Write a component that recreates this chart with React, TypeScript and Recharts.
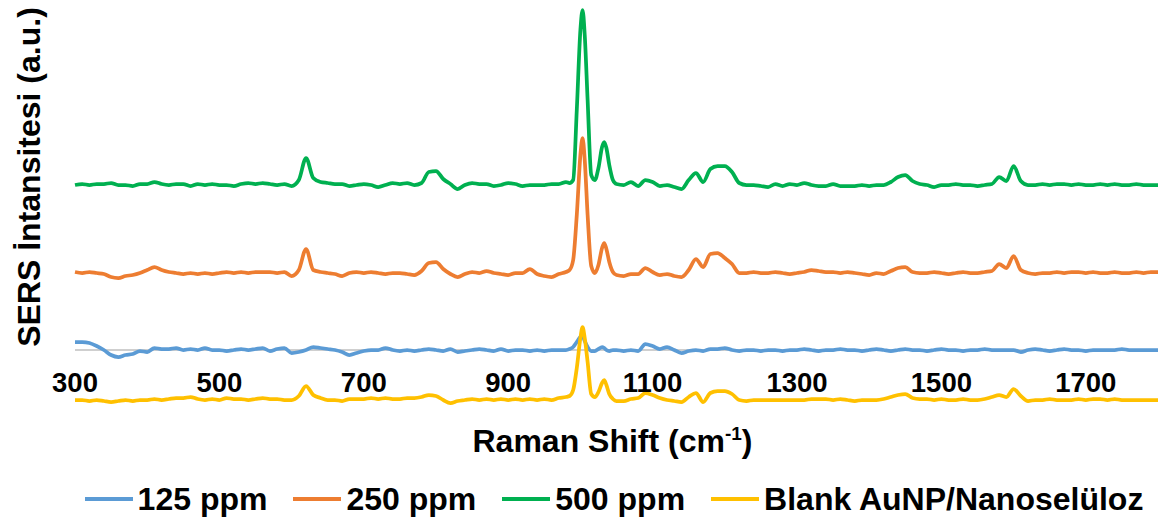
import { LineChart, Line, XAxis, YAxis, CartesianGrid } from 'recharts';

// Raman shift (cm-1) sample positions, finer around the 1003 / 1033 bands
const SHIFTS = [
  300, 310, 320, 330, 340, 350, 360, 370, 380, 390,
  400, 410, 420, 430, 440, 450, 460, 470, 480, 490,
  500, 510, 520, 530, 540, 550, 560, 570, 580, 590,
  600, 610, 620, 630, 640, 650, 660, 670, 680, 690,
  700, 710, 720, 730, 740, 750, 760, 770, 780, 790,
  800, 810, 820, 830, 840, 850, 860, 870, 880, 890,
  900, 910, 920, 930, 940, 950, 960, 970, 980,
  985, 990, 995, 1000, 1003, 1006, 1010, 1015, 1020, 1025, 1030, 1033, 1036, 1040, 1045, 1050,
  1060, 1070, 1080, 1090, 1100, 1110, 1120, 1130, 1140, 1150,
  1160, 1170, 1180, 1190, 1200, 1210, 1220, 1230, 1240, 1250,
  1260, 1270, 1280, 1290, 1300, 1310, 1320, 1330, 1340, 1350,
  1360, 1370, 1380, 1390, 1400, 1410, 1420, 1430, 1440, 1450,
  1460, 1470, 1480, 1490, 1500, 1510, 1520, 1530, 1540, 1550,
  1560, 1570, 1580, 1590, 1600, 1610, 1620, 1630, 1640, 1650,
  1660, 1670, 1680, 1690, 1700, 1710, 1720, 1730, 1740, 1750,
  1760, 1770, 1780, 1790, 1800,
];

const PPM_125 = [
  8, 8, 7, 4, 0, -5, -7, -5, -4, -1,
  -2, 2, 1, 1, 2, 0, 1, 0, 2, 0,
  0, -1, 0, 1, 0, 1, 2, -1, 1, 2,
  -3, -2, 0, 3, 2, 1, 0, -2, -5, -3,
  -1, 0, 0, 2, 0, -1, 0, -1, 0, 1,
  0, -1, 1, -2, -1, 0, 1, 0, -1, 1,
  -1, 0, 0, -1, 0, -1, 0, 0, 0,
  1, 3, 8, 13, 14, 9, 3, -1, -1, 1, 3, 2, 0, -1, 0, 0,
  -1, 0, -1, 6, 4, 1, 3, 0, -3, -1,
  0, -1, 1, 1, 2, 0, -1, 0, 0, -1,
  0, 0, -1, 0, 0, 1, 0, -1, 0, 0,
  1, 0, 0, -1, 0, 1, 0, -1, 0, 1,
  0, 0, -1, 0, 1, 0, 0, -1, 0, 0,
  1, 0, 0, 0, 0, -2, 0, 1, 0, -1,
  0, 1, 0, 0, -1, 0, 0, 0, 0, 1,
  0, 0, 0, 0, 0,
];

const PPM_250 = [
  78, 77, 78, 77, 76, 73, 72, 74, 75, 77,
  80, 83, 80, 78, 77, 76, 77, 76, 77, 76,
  77, 78, 77, 78, 77, 78, 78, 78, 77, 78,
  74, 80, 101, 80, 78, 77, 76, 74, 77, 78,
  77, 78, 77, 76, 77, 77, 76, 75, 79, 87,
  88, 81, 76, 73, 76, 78, 77, 79, 77, 76,
  75, 77, 77, 81, 76, 74, 73, 76, 78,
  80, 90, 135, 195, 212, 190, 135, 84, 77, 85, 102, 107, 101, 88, 78, 75,
  74, 76, 76, 82, 78, 75, 76, 74, 73, 80,
  91, 83, 96, 97, 92, 86, 77, 77, 78, 77,
  77, 78, 77, 76, 77, 78, 80, 79, 78, 78,
  77, 78, 77, 76, 75, 77, 76, 79, 82, 83,
  78, 77, 77, 78, 77, 76, 77, 78, 77, 77,
  78, 79, 86, 82, 94, 80, 77, 76, 77, 77,
  78, 77, 78, 78, 77, 78, 77, 77, 78, 77,
  77, 78, 77, 78, 78,
];

const PPM_500 = [
  165, 166, 165, 166, 166, 167, 165, 165, 164, 166,
  166, 168, 166, 165, 166, 166, 164, 166, 165, 166,
  165, 165, 164, 166, 167, 166, 167, 166, 165, 166,
  164, 170, 192, 172, 168, 167, 166, 166, 164, 165,
  166, 165, 163, 165, 167, 166, 167, 165, 167, 178,
  179, 171, 166, 161, 165, 167, 166, 166, 164, 165,
  167, 166, 164, 165, 165, 165, 166, 166, 168,
  167, 170, 240, 320, 340, 315, 250, 175, 170, 182, 203, 208, 202, 185, 170, 166,
  165, 168, 164, 170, 168, 164, 165, 163, 161, 170,
  177, 168, 181, 184, 184, 178, 167, 165, 165, 164,
  163, 166, 164, 166, 165, 167, 165, 164, 164, 166,
  164, 164, 164, 165, 164, 165, 165, 168, 173, 175,
  169, 166, 165, 163, 165, 165, 166, 165, 165, 164,
  165, 166, 173, 169, 184, 169, 165, 165, 166, 165,
  166, 166, 165, 166, 165, 165, 166, 165, 166, 165,
  165, 166, 165, 165, 165,
];

const BLANK = [
  -50, -50, -51, -50, -51, -52, -51, -50, -51, -50,
  -50, -49, -50, -49, -48, -48, -47, -49, -50, -49,
  -50, -48, -49, -49, -50, -49, -48, -49, -49, -50,
  -50, -46, -36, -45, -48, -50, -50, -51, -49, -49,
  -49, -48, -49, -48, -49, -49, -48, -48, -47, -45,
  -46, -50, -53, -51, -50, -49, -50, -49, -50, -49,
  -50, -49, -50, -49, -50, -49, -50, -48, -47,
  -46, -40, -18, 12, 23, 12, -12, -44, -47, -42, -33, -30, -35, -44, -49, -51,
  -51, -49, -48, -43, -45, -48, -50, -51, -52, -47,
  -43, -52, -43, -41, -41, -44, -50, -51, -50, -50,
  -50, -50, -50, -50, -50, -50, -49, -49, -49, -50,
  -49, -50, -51, -50, -50, -50, -49, -47, -45, -44,
  -48, -49, -49, -50, -49, -50, -50, -49, -50, -50,
  -49, -47, -45, -47, -39, -46, -51, -50, -50, -49,
  -50, -50, -50, -49, -50, -49, -49, -50, -49, -50,
  -50, -50, -50, -50, -50,
];

const X_TICKS = [300, 500, 700, 900, 1100, 1300, 1500, 1700];

const SERIES = [
  { key: 'p125', name: '125 ppm', color: '#5B9BD5', values: PPM_125 },
  { key: 'p250', name: '250 ppm', color: '#ED7D31', values: PPM_250 },
  { key: 'p500', name: '500 ppm', color: '#00B050', values: PPM_500 },
  { key: 'blank', name: 'Blank AuNP/Nanoselüloz', color: '#FFC000', values: BLANK },
];

// draw order: blue, green, orange, yellow on top
const DRAW_ORDER = ['p125', 'p500', 'p250', 'blank'];

const FONT = '"Liberation Sans", Arial, sans-serif';

const data = SHIFTS.map((x, i) => {
  const row: Record<string, number> = { x };
  SERIES.forEach(s => { row[s.key] = s.values[i]; });
  return row;
});

function Tick(props: any) {
  const { x, y, payload } = props;
  return (
    <text x={x} y={y - 18} textAnchor="middle" fontSize={27.5} fontWeight="bold" fill="#000" fontFamily={FONT}>
      {payload.value}
    </text>
  );
}

export default function App() {
  return (
    <div style={{ position: 'absolute', left: 0, top: 0, width: 1168, height: 524, background: '#fff', fontFamily: FONT }}>
      <LineChart width={1168} height={524} data={data} margin={{ top: 0, right: 10, left: 75, bottom: 0 }}>
        <CartesianGrid vertical={false} horizontalValues={[0]} stroke="#BFBFBF" strokeWidth={1.5} />
        <XAxis
          dataKey="x"
          type="number"
          domain={[300, 1800]}
          ticks={X_TICKS}
          axisLine={false}
          tickLine={false}
          tickSize={0}
          tickMargin={0}
          height={114}
          tick={<Tick />}
          interval={0}
        />
        <YAxis hide domain={[-60, 350]} allowDataOverflow />
        {DRAW_ORDER.map(k => {
          const s = SERIES.find(z => z.key === k)!;
          return (
            <Line
              key={s.key}
              dataKey={s.key}
              name={s.name}
              type="monotone"
              stroke={s.color}
              strokeWidth={3.75}
              dot={false}
              isAnimationActive={false}
            />
          );
        })}
      </LineChart>

      <div style={{
        position: 'absolute', left: 29, top: 177, transform: 'translate(-50%, -50%) rotate(-90deg)',
        whiteSpace: 'nowrap', fontSize: 32, fontWeight: 'bold', lineHeight: '32px', color: '#000',
      }}>
        SERS İntansitesi (a.u.)
      </div>

      <div style={{
        position: 'absolute', left: 75, width: 1075, top: 425, textAlign: 'center',
        fontSize: 32, fontWeight: 'bold', lineHeight: '32px', color: '#000', whiteSpace: 'nowrap',
      }}>
        Raman Shift (cm<sup style={{ fontSize: 19, verticalAlign: 'super', lineHeight: 0 }}>-1</sup>)
      </div>

      <div style={{
        position: 'absolute', left: 0, width: 1168, top: 483, display: 'flex', justifyContent: 'center',
        paddingLeft: 60, boxSizing: 'border-box',
        fontSize: 32, fontWeight: 'bold', lineHeight: '32px', color: '#000', whiteSpace: 'nowrap',
      }}>
        {SERIES.map((s, i) => (
          <div key={s.key} style={{ display: 'flex', alignItems: 'center', marginLeft: i === 0 ? 0 : 26 }}>
            <span style={{ display: 'inline-block', width: 48, height: 4, background: s.color, marginRight: 5 }} />
            <span>{s.name}</span>
          </div>
        ))}
      </div>
    </div>
  );
}
